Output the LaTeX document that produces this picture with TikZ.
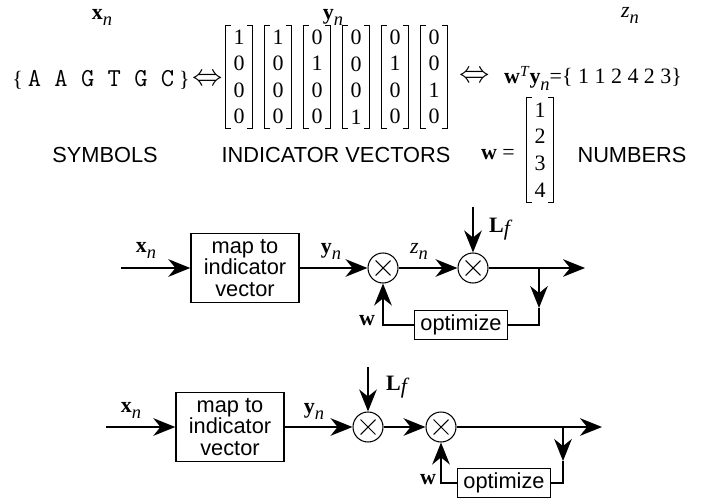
\documentclass[tikz,border=0pt]{standalone}
\usepackage{fontspec}
\setmainfont{Liberation Serif}
\setsansfont{Liberation Sans}
\usetikzlibrary{arrows.meta}

% bold letter with lowered italic index
\newcommand{\vsub}[2]{{\bfseries #1}\raisebox{-0.6ex}{\fontsize{10.5}{10.5}\selectfont\itshape #2}}
\newcommand{\lfsym}{{\bfseries L}\raisebox{-0.3ex}{\itshape f}}
% square brackets round a column node
\newcommand{\brackets}[1]{%
	\draw[brk] ([xshift=0.1cm]#1.north west) -- (#1.north west) -- (#1.south west) -- ([xshift=0.1cm]#1.south west);
	\draw[brk] ([xshift=-0.1cm]#1.north east) -- (#1.north east) -- (#1.south east) -- ([xshift=-0.1cm]#1.south east);}

\tikzset{
	lbl/.style={font=\fontsize{12.5}{14}\selectfont},
	caption/.style={font=\sffamily\fontsize{12.4}{14}\selectfont},
	equiv/.style={font=\fontsize{17}{17}\selectfont, inner sep=0pt},
	vec/.style={minimum width=0.52cm, minimum height=2.04cm, inner sep=0pt, align=center,
		font=\fontsize{12.5}{15.1}\selectfont},
	brk/.style={line width=0.7pt},
	block/.style={draw, line width=0.8pt, align=center, inner sep=0pt,
		minimum width=2.16cm, minimum height=1.38cm, font=\sffamily\fontsize{12.4}{12.2}\selectfont},
	optbox/.style={draw, line width=0.8pt, inner sep=0pt,
		minimum width=1.86cm, minimum height=0.57cm, font=\sffamily\fontsize{12.4}{14}\selectfont},
	mult/.style={draw, circle, line width=0.6pt, minimum size=0.6cm, inner sep=0pt,
		path picture={\draw[line width=0.6pt] (path picture bounding box.center) ++(45:0.21cm) -- ++(225:0.42cm)
			(path picture bounding box.center) ++(135:0.21cm) -- ++(-45:0.42cm);}},
	sig/.style={line width=1pt, -{Stealth[length=12.5pt,width=10pt,inset=4pt]}},
	wire/.style={line width=1pt}
}

\begin{document}
\begin{tikzpicture}[x=0.02cm,y=-0.02cm]

	\useasboundingbox (0,0) rectangle (706,503);

	% top row: symbols, indicator vectors, numbers
	\node[lbl] (xtop) at (102,17) {\vsub{x}{n}};
	\node[lbl] (ytop) at (333,17) {\vsub{y}{n}};
	\node[lbl] (ztop) at (630,15) {{\itshape z}\raisebox{-0.6ex}{\fontsize{10.5}{10.5}\selectfont\itshape n}};

	\node[lbl] (seq) at (101,80) {\{\hspace{0.1cm}{\ttfamily\fontsize{14.7}{16}\selectfont A A G T G C}\hspace{0.1cm}\}};
	\node[equiv] (eq1) at (208,80) {$\Leftrightarrow$};

	\foreach \x/\a/\b/\c/\d [count=\i] in {239/1/0/0/0, 278/1/0/0/0, 317/0/1/0/0,
		356/0/0/0/1, 395/0/1/0/0, 434/0/0/1/0} {
		\node[vec] (v\i) at (\x,77) {\a\\\b\\\c\\\d};
		\brackets{v\i}
	}

	\node[equiv] (eq2) at (475,77) {$\Leftrightarrow$};
	\node[lbl, anchor=base west] (wty) at (498,84) {\textbf{w}\textsuperscript{\itshape T}\vsub{y}{n}=\{ 1 1 2 4 2 3\}};

	\node[lbl, anchor=base east] (weq) at (521,160) {\textbf{w} =};
	\node[vec, minimum height=2.08cm] (wv) at (540,150) {1\\2\\3\\4};
	\brackets{wv}

	\node[caption] (symb) at (105,155) {SYMBOLS};
	\node[caption] (indv) at (336,155) {INDICATOR VECTORS};
	\node[caption] (numb) at (632,155) {NUMBERS};

	% first block diagram
	\coordinate (in1) at (121,268);
	\node[block] (m1) at (245,268) {map to\\indicator\\vector};
	\node[mult] (a1) at (383,268) {};
	\node[mult] (b1) at (473,268) {};
	\coordinate (lf1) at (473,207);
	\coordinate (out1) at (585,268);
	\coordinate (br1) at (539,268);
	\coordinate (dn1) at (539,308);
	\node[optbox] (o1) at (461,325) {optimize};

	\draw[sig] (in1) -- (m1);
	\draw[sig] (m1) -- (a1);
	\draw[sig] (a1) -- (b1);
	\draw[sig] (lf1) -- (b1);
	\draw[sig] (b1) -- (out1);
	\draw[sig] (br1) -- (dn1);
	\draw[wire] (dn1) |- (o1.east);
	\draw[sig] (o1.west) -| (a1.south);

	\node[lbl] (x1) at (146,250) {\vsub{x}{n}};
	\node[lbl] (y1) at (331,251) {\vsub{y}{n}};
	\node[lbl] (z1) at (419,251) {{\itshape z}\raisebox{-0.6ex}{\fontsize{10.5}{10.5}\selectfont\itshape n}};
	\node[lbl, anchor=west] (l1) at (483,229) {\lfsym};
	\node[lbl] (w1) at (367,321) {\textbf{w}};

	% second block diagram
	\coordinate (in2) at (106,427);
	\node[block] (m2) at (230,427) {map to\\indicator\\vector};
	\node[mult] (a2) at (368,427) {};
	\node[mult] (b2) at (441,427) {};
	\coordinate (lf2) at (368,367);
	\coordinate (out2) at (602,427);
	\coordinate (br2) at (563,427);
	\coordinate (dn2) at (563,461);
	\node[optbox] (o2) at (504,483) {optimize};

	\draw[sig] (in2) -- (m2);
	\draw[sig] (m2) -- (a2);
	\draw[sig] (lf2) -- (a2);
	\draw[sig] (a2) -- (b2);
	\draw[sig] (b2) -- (out2);
	\draw[sig] (br2) -- (dn2);
	\draw[wire] (dn2) |- (o2.east);
	\draw[sig] (o2.west) -| (b2.south);

	\node[lbl] (x2) at (131,410) {\vsub{x}{n}};
	\node[lbl] (y2) at (314,411) {\vsub{y}{n}};
	\node[lbl, anchor=west] (l2) at (380,387) {\lfsym};
	\node[lbl] (w2) at (428,480) {\textbf{w}};

\end{tikzpicture}
\end{document}
